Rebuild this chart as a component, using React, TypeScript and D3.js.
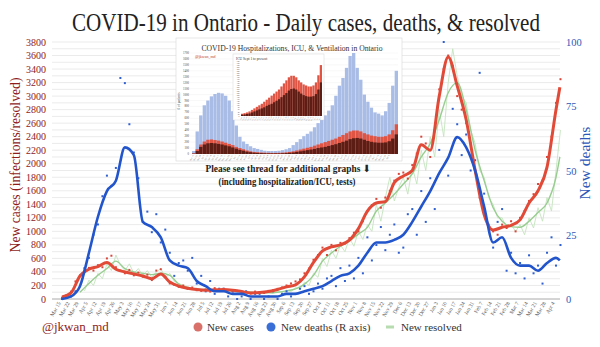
import React from 'react';
import * as d3 from 'd3';

// Weekly tick labels (Mar 15 2020 .. Apr 4 2021)
const weekLabels = [
  'Mar 15','Mar 22','Mar 29','Apr 5','Apr 12','Apr 19','Apr 26','May 3','May 10','May 17','May 24','May 31',
  'Jun 7','Jun 14','Jun 21','Jun 28','Jul 5','Jul 12','Jul 19','Jul 26','Aug 2','Aug 9','Aug 16','Aug 23','Aug 30',
  'Sep 6','Sep 13','Sep 20','Sep 27','Oct 4','Oct 11','Oct 18','Oct 25','Nov 1','Nov 8','Nov 15','Nov 22','Nov 29',
  'Dec 6','Dec 13','Dec 20','Dec 27','Jan 3','Jan 10','Jan 17','Jan 24','Jan 31','Feb 7','Feb 14','Feb 21','Feb 28',
  'Mar 7','Mar 14','Mar 21','Mar 28','Apr 4'
];
const leftTicks = d3.range(0, 3801, 200);
const rightTicks = [0, 25, 50, 75, 100];

// 7-day averages, weekly (last point = Apr 7)
const casesAvg = [30,90,340,440,480,540,440,400,370,340,300,370,250,190,160,140,130,135,140,130,110,90,95,110,140,180,210,330,540,710,770,800,870,1040,1300,1420,1440,1720,1820,1900,2280,2200,3000,3580,3150,2650,1900,1250,1020,1060,1090,1170,1420,1600,1950,2800,3130];
const deathsAvg = [0,1,5,18,32,42,46,59,56,30,28,24,15,13,12,7,5,3,3,2,2,1,1,1,1,2,2,3,4,5,7,9,10,13,18,22,22,23,25,30,36,42,49,55,63,59,50,36,22,24,16,13,13,11,14,16,15];
const resolvedAvg = [null,null,100,230,350,450,560,450,400,380,360,380,350,220,170,140,140,130,120,120,110,100,90,90,100,120,150,220,350,560,680,780,860,960,1060,1300,1420,1550,1700,1850,2100,2300,2650,3050,3200,2800,2200,1750,1350,1150,1070,1060,1150,1280,1420,1800,2100];

// Daily samples (twice weekly)
const casesDots = [20,60,110,260,350,420,460,420,500,470,600,640,470,420,380,430,350,390,330,360,280,420,440,330,230,210,180,200,150,170,130,120,140,110,160,120,150,130,110,120,90,100,80,110,100,90,120,130,150,170,200,230,260,290,380,450,580,650,760,650,800,720,830,820,900,980,1000,1150,1300,1390,1480,1350,1500,1600,1750,1850,1870,1780,1980,2150,2400,2300,2100,2500,3100,3400,3600,3450,3000,2800,2600,2300,1900,1500,1300,1100,1000,950,1100,1050,1150,1000,1200,1300,1450,1550,1700,1750,2100,2400,2900,3250];
const deathsDots = [0,1,1,3,5,12,16,25,29,40,48,44,51,86,84,68,57,47,30,34,26,33,22,27,18,9,14,15,11,16,6,9,3,7,2,4,4,1,3,0,1,3,0,2,2,0,1,3,0,2,3,1,2,4,5,2,3,6,4,8,9,5,12,7,13,8,16,10,24,15,21,28,19,25,29,18,20,33,35,25,42,30,47,35,58,100,48,74,68,56,64,50,54,88,41,28,20,30,35,11,18,10,14,8,17,10,13,6,18,24,13,21];
const resolvedDaily = [null,null,null,null,null,120,280,200,380,300,520,420,650,500,420,520,380,450,350,420,320,400,450,320,380,260,230,200,180,150,160,130,150,120,140,110,130,110,140,100,120,90,110,80,100,80,100,85,110,95,130,110,170,140,250,200,380,320,600,480,720,600,800,700,900,780,1000,880,1100,1000,1400,1150,1500,1800,1450,1650,1800,1550,1950,1700,2200,1900,2400,2100,2800,2400,3200,3700,3300,3000,2900,2500,2300,1900,1800,1500,1400,1200,1200,1050,1100,1000,1100,950,1200,1050,1350,1150,1500,1300,1900,2500];

// Inset: hospitalizations, ICU, ventilation (weekly)
const hospInset = [50,380,650,820,900,970,1010,1030,1020,980,900,720,480,290,210,170,130,100,85,70,55,50,50,50,55,65,80,100,150,200,250,300,340,380,450,520,580,650,730,820,980,1150,1280,1450,1650,1700,1450,1250,1000,880,780,700,680,650,720,860,1150,1400];
const icuInset = [10,80,160,210,240,245,235,225,210,190,170,150,120,100,80,60,45,35,30,25,22,20,18,18,20,22,28,35,45,60,75,90,105,120,140,160,180,200,220,240,260,290,320,350,380,395,395,380,350,330,310,300,290,290,300,330,400,500];
const ventInset = [5,50,120,160,180,185,180,170,160,145,130,110,90,70,55,40,30,22,18,15,12,10,10,10,10,12,15,20,25,35,45,55,65,75,85,100,110,120,135,150,165,185,205,225,250,265,270,260,240,220,205,195,190,190,195,215,260,330];
const insetTicks = d3.range(0, 1701, 100);
const innerTicks = d3.range(0, 541, 20);

const SERIF = "'Liberation Serif', 'DejaVu Serif', serif";
const DARKRED = '#8e1c1c';
const BLUE = '#2e58b8';

export default function App() {
  const x = d3.scaleLinear().domain([0, 385]).range([62, 556]);
  const yC = d3.scaleLinear().domain([0, 3800]).range([299, 42]);
  const yD = d3.scaleLinear().domain([0, 100]).range([299, 42]);
  const avgDay = (i: number) => (i < 56 ? i * 7 : 388);
  const dotDay = (i: number) => i * 3.5;

  const lineC = d3.line<any>().defined((d) => d != null).x((_, i) => x(avgDay(i))).y((d) => yC(d)).curve(d3.curveMonotoneX);
  const lineD = d3.line<any>().defined((d) => d != null).x((_, i) => x(avgDay(i))).y((d) => yD(d)).curve(d3.curveMonotoneX);
  const lineRd = d3.line<any>().defined((d) => d != null).x((_, i) => x(dotDay(i))).y((d) => yC(d)).curve(d3.curveLinear);

  const ix = d3.scaleBand<number>().domain(d3.range(hospInset.length)).range([192, 398]).paddingInner(0.06);
  const iy = d3.scaleLinear().domain([0, 1700]).range([154, 53]);
  const innerIdx = d3.range(25, icuInset.length);
  const jx = d3.scaleBand<number>().domain(innerIdx).range([241, 322]).paddingInner(0.08);
  const jy = d3.scaleLinear().domain([0, 540]).range([116, 61]);

  return (
    <div style={{ position: 'absolute', left: 0, top: 0 }}>
      <svg width={600} height={347} style={{ display: 'block', background: '#fff' }}>
        <rect x={0} y={0} width={600} height={347} fill="#fff" />
        {/* gridlines */}
        {d3.range(0, 3801, 100).map((v) => (
          <line key={v} x1={52} x2={560} y1={yC(v)} y2={yC(v)} stroke={v === 0 ? '#aaa' : '#e2e2e2'} strokeWidth={v === 0 ? 1 : 0.7} />
        ))}
        {/* title */}
        <text x={306} y={31} textAnchor="middle" fontFamily={SERIF} fontSize={25} fill="#222" textLength={468} lengthAdjust="spacingAndGlyphs">
          COVID-19 in Ontario - Daily cases, deaths, &amp; resolved
        </text>
        {/* left axis */}
        {leftTicks.map((v) => (
          <text key={v} x={46} y={yC(v) + 3.5} textAnchor="end" fontFamily={SERIF} fontSize={10} fill={DARKRED}>{v}</text>
        ))}
        <text transform={`translate(20,165) rotate(-90)`} textAnchor="middle" fontFamily={SERIF} fontSize={15} fill={DARKRED} textLength={175} lengthAdjust="spacingAndGlyphs">New cases (infections/resolved)</text>
        {/* right axis */}
        {rightTicks.map((v) => (
          <text key={v} x={566} y={yD(v) + 4} fontFamily={SERIF} fontSize={10.5} fill={BLUE}>{v}</text>
        ))}
        <text transform={`translate(590,163) rotate(-90)`} textAnchor="middle" fontFamily={SERIF} fontSize={15.5} fill={BLUE}>New deaths</text>
        {/* x labels */}
        {weekLabels.map((l, i) => (
          <text key={l + i} transform={`translate(${x(i * 7) - 1},${303}) rotate(-60)`} textAnchor="end" fontFamily={SERIF} fontSize={5.5} fill="#555">{l}</text>
        ))}

        {/* resolved daily + avg */}
        <path d={lineRd(resolvedDaily as any) || ''} fill="none" stroke="#c4e4bd" strokeWidth={0.9} />
        <path d={lineC(resolvedAvg as any) || ''} fill="none" stroke="#98cd90" strokeWidth={1.4} />
        {/* dots */}
        {casesDots.map((v, i) => (
          <rect key={'c' + i} x={x(dotDay(i)) - 1} y={yC(v) - 1} width={2} height={2} fill="#d8463a" />
        ))}
        {deathsDots.map((v, i) => (
          <rect key={'d' + i} x={x(dotDay(i)) - 1} y={yD(v) - 1} width={2} height={2} fill="#2f5fd0" />
        ))}
        <path d={lineC(casesAvg) || ''} fill="none" stroke="#e24a38" strokeWidth={3} strokeLinejoin="round" />
        <path d={lineD(deathsAvg) || ''} fill="none" stroke="#2255cc" strokeWidth={2.6} strokeLinejoin="round" />

        {/* inset */}
        <g>
          <rect x={176} y={38} width={226} height={123} fill="#fff" stroke="#d8d8d8" strokeWidth={0.6} />
          <text x={292} y={51} textAnchor="middle" fontFamily={SERIF} fontSize={8.6} fill="#333" textLength={181} lengthAdjust="spacingAndGlyphs">COVID-19 Hospitalizations, ICU, &amp; Ventilation in Ontario</text>
          <text x={195} y={58} fontFamily={SERIF} fontSize={4} fill="#c0392b">@jkwan_md</text>
          {insetTicks.map((v) => (
            <g key={v}>
              <line x1={190} x2={398} y1={iy(v)} y2={iy(v)} stroke="#eee" strokeWidth={0.4} />
              <text x={189} y={iy(v) + 1} textAnchor="end" fontFamily={SERIF} fontSize={3} fill="#444">{v}</text>
            </g>
          ))}
          <text transform="translate(180,101) rotate(-90)" textAnchor="middle" fontFamily={SERIF} fontSize={3.5} fill="#444"># of patients</text>
          {hospInset.map((v, i) => (
            <rect key={'h' + i} x={ix(i)} y={iy(v)} width={ix.bandwidth()} height={154 - iy(v)} fill="#a9bce6" />
          ))}
          {icuInset.map((v, i) => (
            <rect key={'i' + i} x={ix(i)} y={iy(v)} width={ix.bandwidth()} height={154 - iy(v)} fill="#e05444" />
          ))}
          {ventInset.map((v, i) => (
            <rect key={'v' + i} x={ix(i)} y={iy(v)} width={ix.bandwidth()} height={154 - iy(v)} fill="#5c1d14" />
          ))}
          {weekLabels.map((l, i) => (
            <text key={'il' + i} transform={`translate(${(ix(i) || 0) + 2},${155.5}) rotate(-60)`} textAnchor="end" fontFamily={SERIF} fontSize={2.2} fill="#777">{l}</text>
          ))}
          {/* inner inset */}
          <rect x={233} y={54} width={91} height={66} fill="#fff" stroke="#ccc" strokeWidth={0.4} />
          <text x={236} y={59.5} fontFamily={SERIF} fontSize={3.6} fill="#333">ICU Sept 1 to present</text>
          {innerTicks.map((v) => (
            <text key={'it' + v} x={239.5} y={jy(v) + 0.6} textAnchor="end" fontFamily={SERIF} fontSize={1.8} fill="#555">{v}</text>
          ))}
          {innerIdx.map((i) => (
            <rect key={'ji' + i} x={jx(i)} y={jy(icuInset[i])} width={jx.bandwidth()} height={116 - jy(icuInset[i])} fill="#e05444" />
          ))}
          {innerIdx.map((i) => (
            <rect key={'jv' + i} x={jx(i)} y={jy(ventInset[i])} width={jx.bandwidth()} height={116 - jy(ventInset[i])} fill="#5c1d14" />
          ))}
          {innerIdx.map((i) => (
            <text key={'jl' + i} transform={`translate(${(jx(i) || 0) + 1.5},${117}) rotate(-60)`} textAnchor="end" fontFamily={SERIF} fontSize={1.6} fill="#777">{weekLabels[Math.min(i, 55)]}</text>
          ))}
        </g>

        {/* note */}
        <text x={288} y={172} textAnchor="middle" fontFamily={SERIF} fontSize={10} fontWeight="bold" fill="#222" textLength={165} lengthAdjust="spacingAndGlyphs">Please see thread for additional graphs ⬇</text>
        <text x={287} y={185} textAnchor="middle" fontFamily={SERIF} fontSize={10} fontWeight="bold" fill="#222" textLength={137} lengthAdjust="spacingAndGlyphs">(including hospitalization/ICU, tests)</text>

        {/* footer / legend */}
        <text x={42} y={331} fontFamily={SERIF} fontSize={13} fill={DARKRED}>@jkwan_md</text>
        <circle cx={198} cy={327} r={4.5} fill="#d9716a" />
        <text x={207} y={331} fontFamily={SERIF} fontSize={11} fill="#333">New cases</text>
        <circle cx={271} cy={327} r={4.5} fill="#3a6fd8" />
        <text x={281} y={331} fontFamily={SERIF} fontSize={11} fill="#333">New deaths (R axis)</text>
        <line x1={386} x2={394} y1={327} y2={327} stroke="#b7dcb0" strokeWidth={3} />
        <text x={401} y={331} fontFamily={SERIF} fontSize={11} fill="#333">New resolved</text>
      </svg>
    </div>
  );
}
